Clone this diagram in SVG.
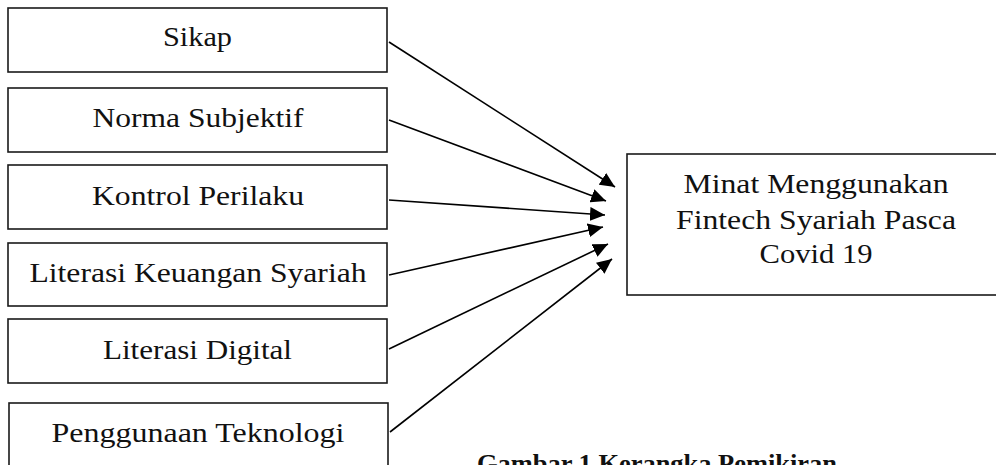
<svg xmlns="http://www.w3.org/2000/svg" width="996" height="465" viewBox="0 0 996 465">
<defs>
<style>
.box{fill:#fff;stroke:#1a1a1a;stroke-width:1.6}
.lbl{font-family:"Liberation Serif","Times New Roman",serif;font-size:27px;fill:#111;text-anchor:middle}
.edge{stroke:#000;stroke-width:1.6;fill:none}
.cap{font-family:"Liberation Serif","Times New Roman",serif;font-size:26px;font-weight:bold;fill:#111}
</style>
<marker id="ah" markerUnits="userSpaceOnUse" markerWidth="16" markerHeight="14" refX="15" refY="7" orient="auto">
<path d="M0,0 L15,7 L0,14 Z" fill="#000"/>
</marker>
</defs>
<rect width="996" height="465" fill="#fff"/>
<g id="n1"><rect class="box" x="8" y="8" width="379" height="64"/><text class="lbl" x="197.5" y="46" textLength="69" lengthAdjust="spacingAndGlyphs">Sikap</text></g>
<g id="n2"><rect class="box" x="8" y="88" width="379" height="64"/><text class="lbl" x="198" y="127" textLength="211" lengthAdjust="spacingAndGlyphs">Norma Subjektif</text></g>
<g id="n3"><rect class="box" x="8" y="165" width="379" height="64"/><text class="lbl" x="198" y="205" textLength="212" lengthAdjust="spacingAndGlyphs">Kontrol Perilaku</text></g>
<g id="n4"><rect class="box" x="8" y="243" width="379" height="63"/><text class="lbl" x="198" y="282" textLength="337" lengthAdjust="spacingAndGlyphs">Literasi Keuangan Syariah</text></g>
<g id="n5"><rect class="box" x="8" y="319" width="379" height="64"/><text class="lbl" x="197.5" y="359" textLength="189" lengthAdjust="spacingAndGlyphs">Literasi Digital</text></g>
<g id="n6"><rect class="box" x="9" y="403" width="379" height="80"/><text class="lbl" x="198" y="442" textLength="293" lengthAdjust="spacingAndGlyphs">Penggunaan Teknologi</text></g>
<g id="n7"><rect class="box" x="627" y="154" width="390" height="141"/>
<text class="lbl" x="816" y="193" textLength="265" lengthAdjust="spacingAndGlyphs">Minat Menggunakan</text>
<text class="lbl" x="816" y="229" textLength="280" lengthAdjust="spacingAndGlyphs">Fintech Syariah Pasca</text>
<text class="lbl" x="816" y="263" textLength="113" lengthAdjust="spacingAndGlyphs">Covid 19</text></g>
<g id="edges">
<line class="edge" x1="389" y1="42" x2="615" y2="187" marker-end="url(#ah)"/>
<line class="edge" x1="389" y1="120" x2="606" y2="201" marker-end="url(#ah)"/>
<line class="edge" x1="389" y1="200" x2="605" y2="215" marker-end="url(#ah)"/>
<line class="edge" x1="389" y1="275" x2="603" y2="227" marker-end="url(#ah)"/>
<line class="edge" x1="389" y1="349" x2="608" y2="244" marker-end="url(#ah)"/>
<line class="edge" x1="390" y1="432" x2="612" y2="259" marker-end="url(#ah)"/>
</g>
<text class="cap" x="477" y="472" textLength="360" lengthAdjust="spacingAndGlyphs">Gambar 1 Kerangka Pemikiran</text>
</svg>
